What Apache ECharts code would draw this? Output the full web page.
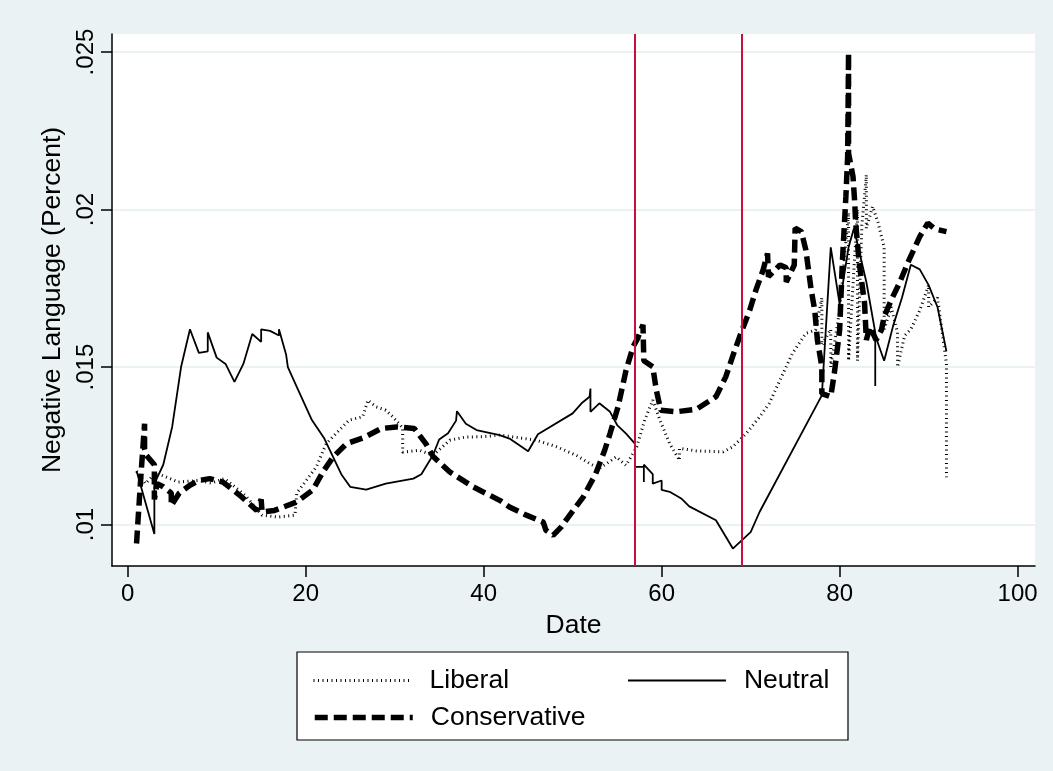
<!DOCTYPE html>
<html>
<head>
<meta charset="utf-8">
<title>Negative Language</title>
<script src="https://cdn.jsdelivr.net/npm/echarts@6/dist/echarts.min.js"></script>
<style>
    html, body { margin: 0; padding: 0; background: #EAF2F3; }
    #chart { width: 1053px; height: 771px; }
</style>
</head>
<body>
<div id="chart"></div>
<script>
// 数据
var liberalDate = [1, 2, 3, 3.8, 5.7, 7.9, 9.4, 10.9, 13.2, 15.1, 16.9, 18.8, 19, 19, 21.2, 22.3, 23.1, 24.9, 26.4, 27, 27.9, 29, 29.8, 30.9, 30.9, 32.8, 34.3, 36.2, 38, 39.9, 41.8, 42.9, 45.9, 48.2, 50.4, 51.9, 53, 54.9, 56, 57.2, 58.1, 59, 59.8, 60.9, 62, 62, 63.9, 66.9, 68, 69.5, 71, 72.1, 73.3, 74.7, 76.2, 77.3, 78, 78, 79, 79, 80, 81, 81, 82, 82, 82.5, 83, 83, 83.7, 84.3, 85, 85, 85.8, 86.5, 86.5, 87.3, 88, 89, 90, 90, 91, 92, 92];
var liberalValue = [.0117, .0113, .0116, .01157, .01135, .0114, .01132, .01146, .01093, .0103, .01024, .0103, .0103, .011, .01183, .01257, .0128, .01332, .01342, .01395, .01374, .01363, .01342, .01307, .0123, .01236, .0122, .01268, .01278, .01279, .01284, .0128, .01268, .01247, .0122, .01194, .01178, .01215, .01188, .01247, .01332, .01395, .01332, .01257, .01204, .01242, .01234, .01231, .01247, .01289, .01342, .01385, .01459, .01544, .01607, .01618, .0172, .0157, .0162, .015, .0168, .0199, .0152, .02, .0152, .0195, .0211, .0194, .0201, .0196, .0188, .0162, .0169, .0161, .015, .016, .0162, .0168, .0176, .0169, .0172, .0151, .0115];

var neutralDate = [1, 3, 3, 4, 5, 6, 7, 8, 9, 9, 10, 11, 12, 13, 14, 15, 15, 16, 17, 17, 17.8, 18, 19, 20.7, 22.1, 24, 25, 26.8, 29, 32.1, 33, 34.3, 35, 36, 36.9, 37, 38, 39.2, 41.8, 42.9, 45, 46.1, 50, 51, 51.9, 52, 52, 53, 54.2, 55, 56, 57, 57, 58, 58, 58, 59, 59, 60, 60, 60.9, 62.2, 63.1, 66.1, 68, 70, 71, 78, 79, 80, 81, 81.6, 83, 84, 84, 84, 85, 86, 87, 88, 89, 90, 91, 92];
var neutralValue = [.0117, .0097, .0113, .0119, .0131, .015, .0162, .01545, .0155, .0161, .0153, .0151, .01453, .0151, .01605, .0158, .0162, .01615, .016, .0162, .0154, .015, .01437, .01332, .01273, .0116, .0112, .01111, .0113, .01146, .0116, .0122, .0127, .0129, .0133, .0136, .0132, .013, .01284, .01273, .01233, .01287, .01353, .01385, .01406, .01432, .01358, .01385, .01358, .01316, .01289, .01257, .01183, .01183, .01135, .0119, .0116, .0113, .0114, .0111, .01104, .01083, .01058, .01014, .00924, .00976, .0104, .0141, .0188, .0170, .0188, .0194, .0177, .0161, .0144, .016, .0152, .0163, .0172, .01825, .0181, .0176, .0169, .0155];

var conservativeDate = [1, 1.2, 1.5, 1.9, 1.9, 2.1, 3, 3, 3.3, 4, 4.9, 4.9, 5.8, 7, 8, 9.2, 10.7, 12.6, 14.5, 15, 15.1, 16.5, 19, 20.8, 22, 23.1, 24.6, 26.6, 28.5, 30.2, 32.2, 33.5, 34.3, 36.2, 38.8, 41.8, 42.9, 44.8, 46.7, 47, 47.8, 48.7, 49.8, 51.2, 52.6, 53.6, 54.2, 55.1, 56, 56.8, 57.3, 57.9, 58, 59, 59.4, 59.9, 61.6, 63.9, 66.1, 67.2, 68.1, 68.9, 69.9, 70.6, 71.4, 71.9, 72, 73.3, 74, 74, 74.9, 75, 75.7, 76.2, 76.8, 77.2, 77.5, 78, 78, 79, 79.4, 80, 80.3, 80.7, 80.9, 81, 81, 81.5, 81.7, 81.8, 82.2, 82.8, 83, 83.4, 84.1, 84.7, 85, 85.8, 86.7, 87.8, 89, 89.9, 90.7, 92];
var conservativeValue = [.0094, .0103, .0116, .0132, .0124, .0122, .0119, .0108, .0113, .0112, .011, .0106, .011, .01125, .0114, .01146, .01135, .01093, .01045, .0108, .0104, .01045, .01072, .0111, .0117, .01215, .01257, .01277, .01305, .0131, .01305, .01257, .01217, .01167, .0112, .01077, .01056, .0103, .01008, .00982, .00966, .00992, .01035, .01088, .01162, .01236, .01289, .01374, .0149, .01565, .01591, .01634, .0152, .01501, .01427, .01363, .01358, .01366, .01406, .01469, .01544, .01607, .01681, .01745, .01808, .01861, .01787, .01824, .01815, .0177, .01824, .01941, .0193, .01872, .01745, .01681, .01586, .01501, .01416, .01406, .0148, .01618, .0183, .02041, .02168, .02497, .02179, .02105, .0202, .01957, .0183, .01702, .01586, .01628, .01586, .01618, .0166, .01713, .01766, .0184, .01914, .01957, .01938, .0193];

var xTicks = [0, 20, 40, 60, 80, 100];
var yTicks = [0.01, 0.015, 0.02, 0.025];
var eventDates = [57, 69];

function pairs(dates, values) {
    return dates.map(function (d, i) { return [d, values[i]]; });
}

var font = 'Liberation Sans, Arial, sans-serif';
// 线型
var liberalLine = { color: '#000', width: 3, type: [1, 3.5] };
var neutralLine = { color: '#000', width: 1.8, type: 'solid' };
var conservativeLine = { color: '#000', width: 5.5, type: [13, 6] };

var chart = echarts.init(document.getElementById('chart'));

var legendText = { fontSize: 26.5, color: '#000', padding: [0, 0, 0, 13], fontFamily: font };

var option = {
    backgroundColor: '#EAF2F3',
    animation: false,
    textStyle: { fontFamily: font },
    grid: { left: 112, right: 18, top: 34, bottom: 205, show: true, backgroundColor: '#fff', borderWidth: 0 },
    xAxis: {
        type: 'value',
        min: -1.76,
        max: 101.95,
        name: 'Date',
        nameLocation: 'middle',
        nameGap: 46,
        nameTextStyle: { fontSize: 26.5, color: '#000', fontFamily: font },
        axisLine: { onZero: false, lineStyle: { color: '#000', width: 1.5 } },
        axisTick: { length: 11, lineStyle: { color: '#000', width: 1.5 }, customValues: xTicks },
        axisLabel: { fontSize: 24, color: '#000', margin: 16, customValues: xTicks, fontFamily: font },
        splitLine: { show: false }
    },
    yAxis: {
        type: 'value',
        min: 0.008686,
        max: 0.025572,
        name: 'Negative Language (Percent)',
        nameLocation: 'middle',
        nameGap: 45,
        nameTextStyle: { fontSize: 26.5, color: '#000', fontFamily: font },
        axisLine: { show: true, onZero: false, lineStyle: { color: '#000', width: 1.5 } },
        axisTick: { show: true, length: 11, lineStyle: { color: '#000', width: 1.5 }, customValues: yTicks },
        axisLabel: {
            fontSize: 24, color: '#000', rotate: 90, margin: 14, fontFamily: font,
            customValues: yTicks,
            formatter: function (v) { return String(v).replace(/^0/, ''); }
        },
        splitLine: { show: true, lineStyle: { color: '#EAF2F3', width: 2 } }
    },
    legend: [{
        data: [
            { name: 'Liberal', lineStyle: liberalLine, itemStyle: { opacity: 0 } },
            { name: 'Neutral', lineStyle: neutralLine, itemStyle: { opacity: 0 } }
        ],
        left: 307, top: 662,
        itemWidth: 98, itemHeight: 14, itemGap: 118,
        textStyle: legendText
    }, {
        data: [
            { name: 'Conservative', lineStyle: conservativeLine, itemStyle: { opacity: 0 } }
        ],
        left: 307, top: 699,
        itemWidth: 98, itemHeight: 14,
        textStyle: legendText
    }],
    graphic: [{
        type: 'rect',
        shape: { x: 297, y: 652, width: 551, height: 88 },
        style: { fill: '#fff', stroke: '#000', lineWidth: 1.2 },
        z: -1
    }],
    series: [{
        name: 'Liberal',
        type: 'line',
        symbol: 'none',
        data: pairs(liberalDate, liberalValue),
        lineStyle: liberalLine,
        itemStyle: { color: '#000' }
    }, {
        name: 'Neutral',
        type: 'line',
        symbol: 'none',
        data: pairs(neutralDate, neutralValue),
        lineStyle: neutralLine,
        itemStyle: { color: '#000' }
    }, {
        name: 'Conservative',
        type: 'line',
        symbol: 'none',
        data: pairs(conservativeDate, conservativeValue),
        lineStyle: conservativeLine,
        itemStyle: { color: '#000' },
        markLine: {
            silent: true,
            symbol: 'none',
            label: { show: false },
            lineStyle: { color: '#C8103E', width: 2, type: 'solid' },
            data: eventDates.map(function (d) { return { xAxis: d }; })
        }
    }]
};

chart.setOption(option);
</script>
</body>
</html>
